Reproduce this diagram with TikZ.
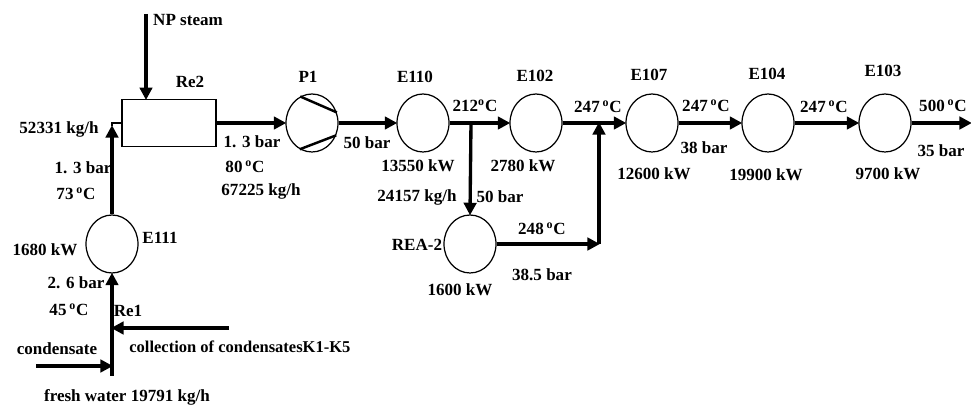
\documentclass[tikz,border=0pt]{standalone}
\usepackage{fontspec}
\setmainfont{Liberation Serif}
\usetikzlibrary{arrows.meta,shapes,positioning}
\newcommand{\degC}{\,\textsuperscript{o}C}
\tikzset{
    unit/.style={ellipse, draw=black, line width=0.7pt, minimum width=1.04cm, minimum height=1.16cm, inner sep=0pt},
    tank/.style={rectangle, draw=black, line width=0.7pt, minimum width=1.88cm, minimum height=0.93cm, inner sep=0pt},
    flow/.style={line width=1.9pt, -{Triangle[length=0.25cm,width=0.25cm,sep=0pt]}, shorten >=-0.5pt},
    pipe/.style={line width=1.9pt},
    lbl/.style={inner sep=0pt, font=\fontsize{9.7}{11.6}\selectfont\bfseries}
}

\begin{document}
\begin{tikzpicture}[x=0.02cm, y=-0.02cm]
    \useasboundingbox (0,0) rectangle (971,405);

    % units
    \node[tank] (Re2) at (169,123) {};
    \node[unit] (E111) at (112,244) {};
    \node[unit] (P1) at (312,123) {};
    \node[unit] (E110) at (423,123) {};
    \node[unit] (E102) at (536,123) {};
    \node[unit] (E107) at (652,123) {};
    \node[unit] (E104) at (768,123) {};
    \node[unit] (E103) at (885,123) {};
    \node[unit] (REA2) at (470,244) {};

    % free ends and junctions
    \coordinate (steam) at (146,14) ;
    \coordinate (feed) at (112,376) ;
    \coordinate (inlet) at (112,126) ;
    \coordinate (corner) at (112,123) ;
    \coordinate (cond) at (36,366) ;
    \coordinate (condin) at (112,366) ;
    \coordinate (coll) at (229,328) ;
    \coordinate (collin) at (112,328) ;
    \coordinate (branch) at (471,123) ;
    \coordinate (merge) at (599,123) ;
    \coordinate (bend) at (599,244) ;
    \coordinate (out) at (971,123) ;

    % pipes
    \draw[flow] (steam) -- (steam |- Re2.north);
    \draw[flow] (feed) -- (E111.south);
    \draw[flow] (E111.north) -- (inlet);
    \draw[line width=1.2pt] (Re2.west) -- (corner) -- (inlet);
    \draw[flow] (cond) -- (condin);
    \draw[flow] (coll) -- (collin);
    \draw[flow] (Re2.east |- P1.west) -- (P1.west);
    \draw[flow] (P1.east) -- (E110.west);
    \draw[flow] (E110.east) -- (E102.west);
    \draw[flow] (branch) -- (REA2.north);
    \draw[flow] (E102.east) -- (E107.west);
    \draw[flow] (REA2.east) -- (bend);
    \draw[flow] (bend) -- (merge);
    \draw[flow] (E107.east) -- (E104.west);
    \draw[flow] (E104.east) -- (E103.west);
    \draw[flow] (E103.east) -- (out);

    % blades of the pump
    \draw[line width=1.4pt] (P1.114) -- (P1.23);
    \draw[line width=1.4pt] (P1.-115) -- (P1.-27);

    % labels
    \node[lbl] (lsteam) at (188,20) {NP steam};
    \node[lbl] (lRe2) at (190,82) {Re2};
    \node[lbl] (lP1) at (308,77) {P1};
    \node[lbl] (lin) at (59,129) {52331 kg/h};
    \node[lbl] (lp1) at (83,168) {1. 3 bar};
    \node[lbl] (lt1) at (76,194) {73\degC};
    \node[lbl] (lE111) at (160,238) {E111};
    \node[lbl] (lq1) at (45,250) {1680 kW};
    \node[lbl] (lp2) at (76,283) {2. 6 bar};
    \node[lbl] (lt2) at (69,310) {45\degC};
    \node[lbl] (lRe1) at (128,311) {Re1};
    \node[lbl, anchor=west, font=\fontsize{9.4}{11.6}\selectfont\bfseries] (lcoll) at (129,347) {collection of condensatesK1-K5};
    \node[lbl] (lcond) at (57,349) {condensate};
    \node[lbl] (lfresh) at (127,397) {fresh water 19791 kg/h};
    \node[lbl] (lp3) at (252,142) {1. 3 bar};
    \node[lbl] (lt3) at (245,167) {80\degC};
    \node[lbl] (lm3) at (261,191) {67225 kg/h};
    \node[lbl] (lp4) at (367,143) {50 bar};
    \node[lbl] (lE110) at (415,77) {E110};
    \node[lbl] (lt4) at (475,106) {212\textsuperscript{o}C};
    \node[lbl] (lE102) at (535,76) {E102};
    \node[lbl] (lt5) at (598,107) {247\degC};
    \node[lbl] (lq110) at (418,166) {13550 kW};
    \node[lbl] (lq102) at (523,166) {2780 kW};
    \node[lbl] (lm4) at (417,197) {24157 kg/h};
    \node[lbl] (lp5) at (500,197) {50 bar};
    \node[lbl] (lREA2) at (417,245) {REA-2};
    \node[lbl] (lt6) at (542,229) {248\degC};
    \node[lbl] (lp6) at (542,275) {38.5 bar};
    \node[lbl] (lqREA) at (460,290) {1600 kW};
    \node[lbl] (lE107) at (649,75) {E107};
    \node[lbl] (lq107) at (654,174) {12600 kW};
    \node[lbl] (lt7) at (706,106) {247\degC};
    \node[lbl] (lp7) at (704,148) {38 bar};
    \node[lbl] (lE104) at (767,74) {E104};
    \node[lbl] (lq104) at (766,175) {19900 kW};
    \node[lbl] (lt8) at (824,107) {247\degC};
    \node[lbl] (lE103) at (883,71) {E103};
    \node[lbl] (lq103) at (888,174) {9700 kW};
    \node[lbl] (lt9) at (943,106) {500\degC};
    \node[lbl] (lp9) at (941,151) {35 bar};
\end{tikzpicture}
\end{document}
